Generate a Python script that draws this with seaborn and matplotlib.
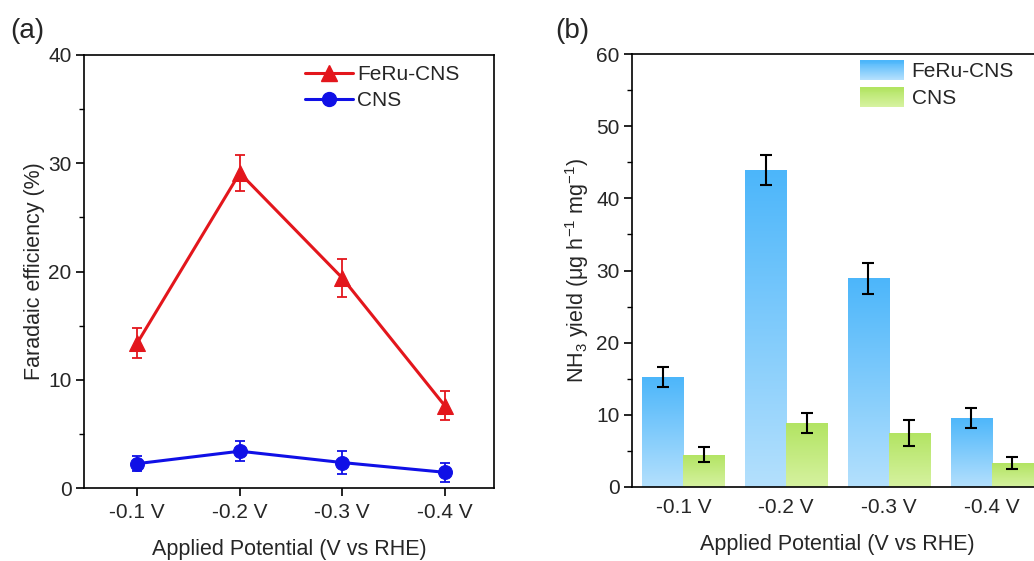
import numpy as np
import pandas as pd
import matplotlib
matplotlib.use("Agg")
import matplotlib.pyplot as plt
from matplotlib.lines import Line2D
from matplotlib.patches import Rectangle
from matplotlib.legend_handler import HandlerBase
from matplotlib.colors import LinearSegmentedColormap, to_rgb
from matplotlib.ticker import MultipleLocator
import seaborn as sns

# ---------------- data ----------------
potentials = ["-0.1 V", "-0.2 V", "-0.3 V", "-0.4 V"]
series = ["FeRu-CNS", "CNS"]

fe_feru = [13.4, 29.1, 19.4, 7.6]
fe_feru_err = [1.4, 1.7, 1.75, 1.35]
fe_cns = [2.25, 3.4, 2.35, 1.45]
fe_cns_err = [0.7, 0.9, 1.1, 0.9]

yield_feru = [15.2, 43.9, 28.9, 9.6]
yield_feru_err = [1.4, 2.1, 2.1, 1.4]
yield_cns = [4.5, 8.9, 7.55, 3.3]
yield_cns_err = [1.0, 1.35, 1.8, 0.8]

# ---------------- style ----------------
sns.set_theme(style="ticks")
plt.rcParams["font.family"] = ["Liberation Sans", "DejaVu Sans"]
plt.rcParams["mathtext.fontset"] = "custom"
plt.rcParams["mathtext.rm"] = "Liberation Sans"
plt.rcParams["mathtext.it"] = "Liberation Sans:italic"
plt.rcParams["mathtext.default"] = "regular"

red = "#e3161c"
blue = "#1010e6"
blue_top, blue_bot = "#4cb6fa", "#b4e0fd"
green_top, green_bot = "#b2e462", "#d6f2a0"

fs_tick = 15
fs_lab = 15.5
fs_leg = 15

fig = plt.figure(figsize=(10.34, 5.61), dpi=100)
ax1 = fig.add_axes([84 / 1034, 1 - 488 / 561, 410 / 1034, 433 / 561])
ax2 = fig.add_axes([632 / 1034, 1 - 487 / 561, 411 / 1034, 433 / 561])

# ---------------- panel (a) ----------------
df_a = pd.DataFrame({
    "potential": potentials * 2,
    "fe": fe_feru + fe_cns,
    "err": fe_feru_err + fe_cns_err,
    "sample": [series[0]] * 4 + [series[1]] * 4,
})
colors_a = {series[0]: red, series[1]: blue}
markers_a = {series[0]: "^", series[1]: "o"}
sizes_a = {series[0]: 11, series[1]: 10}

for s in series:
    sub = df_a[df_a["sample"] == s]
    ax1.errorbar(sub["potential"], sub["fe"], yerr=sub["err"], fmt="none",
                 ecolor=colors_a[s], elinewidth=1.3, capsize=3.5, capthick=1.3, zorder=2)
    sns.lineplot(data=sub, x="potential", y="fe", ax=ax1, color=colors_a[s],
                 marker=markers_a[s], markersize=sizes_a[s], markeredgecolor=colors_a[s],
                 linewidth=2.2, label=s, zorder=3, legend=False)

ax1.set_xlim(-0.52, 3.48)
ax1.set_ylim(0, 40)
ax1.yaxis.set_major_locator(MultipleLocator(10))
ax1.yaxis.set_minor_locator(MultipleLocator(5))
ax1.set_xlabel("Applied Potential (V vs RHE)", fontsize=fs_lab, labelpad=12)
ax1.set_ylabel("Faradaic efficiency (%)", fontsize=fs_lab, labelpad=2)
ax1.tick_params(axis="both", which="major", labelsize=fs_tick, direction="out", length=6, width=1.2, color="black")
ax1.tick_params(axis="y", which="minor", direction="out", length=3.5, width=1.0, color="black")
ax1.tick_params(axis="x", which="major", pad=5)
ax1.tick_params(axis="y", which="major", pad=3)
for sp in ax1.spines.values():
    sp.set_linewidth(1.2)
    sp.set_color("black")

handles_a = [Line2D([], [], color=colors_a[s], marker=markers_a[s], markersize=sizes_a[s],
                    linewidth=2.2) for s in series]
ax1.legend(handles_a, series, loc="upper left", bbox_to_anchor=(0.493, 1.02), frameon=False,
           fontsize=fs_leg, handlelength=2.3, handletextpad=0.2, labelspacing=0.33)
fig.text(10 / 1034, 1 - 31 / 561, "(a)", fontsize=20, va="center", ha="left")

# ---------------- panel (b) ----------------
df_b = pd.DataFrame({
    "potential": potentials * 2,
    "yield": yield_feru + yield_cns,
    "err": yield_feru_err + yield_cns_err,
    "sample": [series[0]] * 4 + [series[1]] * 4,
})
sns.barplot(data=df_b, x="potential", y="yield", hue="sample", hue_order=series,
            order=potentials, palette=[blue_top, green_top], width=0.8, gap=0,
            errorbar=None, ax=ax2, legend=False, linewidth=0)

grads = [(blue_top, blue_bot), (green_top, green_bot)]
errs = [yield_feru_err, yield_cns_err]
for cont, (ctop, cbot), err in zip(ax2.containers, grads, errs):
    cmap = LinearSegmentedColormap.from_list("g", [cbot, ctop])
    grad = np.linspace(0, 1, 256).reshape(-1, 1)
    for bar, e in zip(cont, err):
        x0, w, h = bar.get_x(), bar.get_width(), bar.get_height()
        im = ax2.imshow(grad, cmap=cmap, origin="lower", aspect="auto",
                        extent=(x0, x0 + w, 0, h), zorder=1.5)
        im.set_clip_path(bar)
        bar.set_facecolor("none")
        ax2.errorbar(x0 + w / 2, h, yerr=e, fmt="none", ecolor="black",
                     elinewidth=1.5, capsize=4, capthick=1.5, zorder=3)

ax2.set_xlim(-0.5, 3.5)
ax2.set_ylim(0, 60)
ax2.yaxis.set_major_locator(MultipleLocator(10))
ax2.yaxis.set_minor_locator(MultipleLocator(5))
ax2.set_xlabel("Applied Potential (V vs RHE)", fontsize=fs_lab, labelpad=12)
ax2.set_ylabel(r"NH$_{3}$ yield ($\mathregular{\mu}$g h$^{-1}$ mg$^{-1}$)", fontsize=fs_lab, labelpad=4)
ax2.tick_params(axis="both", which="major", labelsize=fs_tick, direction="out", length=6, width=1.2, color="black")
ax2.tick_params(axis="y", which="minor", direction="out", length=3.5, width=1.0, color="black")
ax2.tick_params(axis="x", which="major", length=0, pad=8)
ax2.tick_params(axis="y", which="major", pad=3)
for sp in ax2.spines.values():
    sp.set_linewidth(1.2)
    sp.set_color("black")


class GradHandler(HandlerBase):
    def __init__(self, ctop, cbot, n=20):
        super().__init__()
        self.ctop, self.cbot, self.n = np.array(to_rgb(ctop)), np.array(to_rgb(cbot)), n

    def create_artists(self, legend, orig_handle, xdescent, ydescent, width, height, fontsize, trans):
        arts = []
        for i in range(self.n):
            t = i / (self.n - 1)
            c = self.cbot * (1 - t) + self.ctop * t
            r = Rectangle((-xdescent, -ydescent + height * i / self.n), width, height / self.n + 0.3,
                          facecolor=c, edgecolor="none", transform=trans)
            arts.append(r)
        return arts


h_feru = Rectangle((0, 0), 1, 1)
h_cns = Rectangle((0, 0), 1, 1, facecolor="g")
ax2.legend([h_feru, h_cns], series, loc="upper left", bbox_to_anchor=(0.508, 1.028), frameon=False,
           fontsize=fs_leg, handlelength=2.15, handleheight=1.05, handletextpad=0.35, labelspacing=0.3,
           handler_map={h_feru: GradHandler(blue_top, blue_bot), h_cns: GradHandler(green_top, green_bot)})
fig.text(555 / 1034, 1 - 31 / 561, "(b)", fontsize=20, va="center", ha="left")

fig.savefig("out.png", dpi=100)
